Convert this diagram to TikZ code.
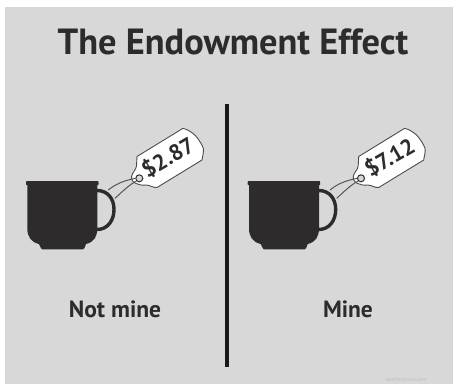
\documentclass[tikz,border=0pt]{standalone}
\usepackage{fontspec}
\setmainfont{PT Sans}
\definecolor{bg}{HTML}{D8D8D8}
\definecolor{ink}{HTML}{2E2B2C}
\tikzset{
  x=1pt,y=-1pt,
  cupfill/.style={fill=ink,draw=none},
  handle/.style={draw=ink,line width=3.4pt},
  tagshape/.style={fill=white,draw=ink!85,line width=.9pt,line join=round},
  tagstring/.style={draw=ink!80,line width=1pt},
  price/.style={font=\bfseries\fontsize{22.5}{24}\selectfont,text=ink,rotate=30,inner sep=0pt},
  caption/.style={font=\bfseries\fontsize{23.5}{25}\selectfont,text=ink,inner sep=0pt},
}
\newcommand{\taggedcup}[3]{%
\begin{scope}[xshift=#1]
  \draw[handle] (97,190.5) .. controls (108,190.5) and (114,199) .. (114,209.5) .. controls (114,220) and (108,229.5) .. (97,229.5);
  \fill[cupfill] (27.3,184) -- (27.3,228) .. controls (27.3,237) and (31,242) .. (39,244) -- (41,248) -- (42,249.3) -- (83,249.3) -- (84.5,248) -- (86,244) .. controls (94,242) and (97.3,237) .. (97.3,228) -- (97.3,184) -- cycle;
  \fill[cupfill,rounded corners=.8pt] (26,181) rectangle (98.5,185.2);
  \coordinate (#3a) at (108.3,190);
  \coordinate (#3b) at (115,198.3);
  \draw[tagshape] (137,156.5) -- (183,128.3) .. controls (186,128) and (188,131) .. (191,132) .. controls (195,134) and (201,142) .. (203.3,148.3) .. controls (204,152) and (202.5,156) .. (202,160) -- (157,187.5) .. controls (153,188) and (150,185) .. (146,185) .. controls (140,186) and (130,183) .. (131.7,176) .. controls (132,173) and (136,170) .. (136.5,166) -- cycle;
  \node[circle,draw=ink,line width=1pt,fill=bg,minimum size=7pt,inner sep=0pt] (#3h) at (139.3,178.3) {};
  \draw[tagstring] (#3h.west) .. controls (128,180) and (118,182) .. (#3a);
  \draw[tagstring] (#3h.south west) .. controls (130,184) and (122,192) .. (#3b);
  \node[price] (#3p) at (168,157.5) {#2};
\end{scope}}
\begin{document}
\begin{tikzpicture}
\useasboundingbox (0,0) rectangle (453,384);
\fill[bg] (5,7) rectangle (453,384);
\node[font=\bfseries\fontsize{36.4}{40}\selectfont,text=ink,inner sep=0pt] (title) at (233,42) {The Endowment Effect};
\coordinate (divtop) at (227,104);
\coordinate (divbot) at (227,367);
\draw[line width=3.2pt,black!90] (divtop) -- (divbot);
\taggedcup{0pt}{\$2.87}{l}
\taggedcup{221.7pt}{\$7.12}{r}
\node[caption] (notmine) at (115,309) {Not mine};
\node[caption] (mine) at (348,309) {Mine};
\node[font=\fontsize{5.5}{6}\selectfont\itshape,text=black!25,inner sep=0pt] (credit) at (406,380) {kenthendricks.com};
\end{tikzpicture}
\end{document}
